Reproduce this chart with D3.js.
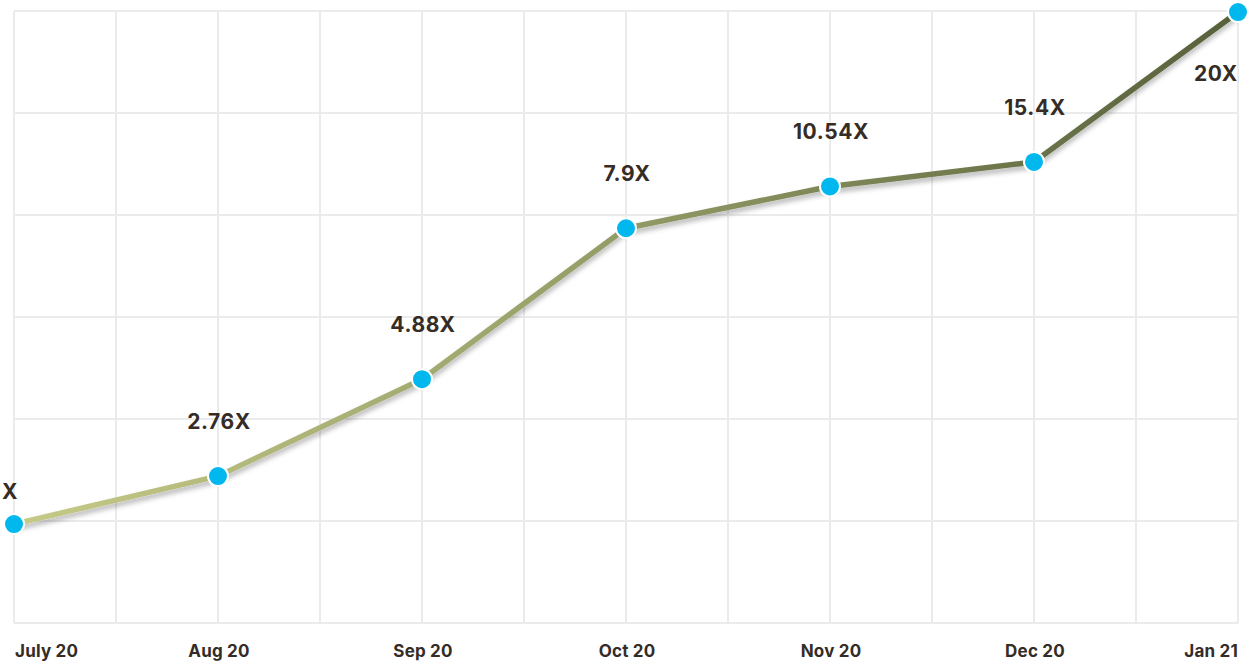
<!DOCTYPE html>
<html><head><meta charset="utf-8">
<script src="https://cdn.jsdelivr.net/npm/d3@7"></script>
<style>
html,body{margin:0;padding:0;background:#fff;}
svg{display:block;font-family:Inter,"Noto Sans",sans-serif;}
</style></head>
<body>
<svg id="chart" width="1255" height="665"></svg>
<script>
const months = ["July 20","Aug 20","Sep 20","Oct 20","Nov 20","Dec 20","Jan 21"];
const values = [0.97, 1.44, 2.39, 3.87, 4.28, 4.52, 5.99];
const labels = ["X","2.76X","4.88X","7.9X","10.54X","15.4X","20X"];
const yTicks = [0,1,2,3,4,5,6];

const svg = d3.select("#chart");
const x = d3.scalePoint().domain(months).range([14, 1238]);
const xGrid = d3.scaleLinear().domain([0, 12]).range([14, 1238]);
const y = d3.scaleLinear().domain([0, 6]).range([623, 11]);

const defs = svg.append("defs");
const grad = defs.append("linearGradient").attr("id","lg")
  .attr("gradientUnits","userSpaceOnUse")
  .attr("x1",14).attr("y1",0).attr("x2",1238).attr("y2",0);
grad.append("stop").attr("offset","0%").attr("stop-color","#c6ca88");
grad.append("stop").attr("offset","45%").attr("stop-color","#98a06a");
grad.append("stop").attr("offset","100%").attr("stop-color","#56603a");
const f = defs.append("filter").attr("id","sh").attr("x","-10%").attr("y","-10%").attr("width","120%").attr("height","130%");
f.append("feDropShadow").attr("dx",0).attr("dy",4).attr("stdDeviation",2.5)
  .attr("flood-color","#000").attr("flood-opacity",0.28);

// grid
const g = svg.append("g");
g.selectAll("line.h").data(yTicks).join("line")
  .attr("x1",14).attr("x2",1238).attr("y1",d=>y(d)).attr("y2",d=>y(d))
  .attr("stroke","#ebebeb").attr("stroke-width",2);
g.selectAll("line.v").data(d3.range(13)).join("line")
  .attr("x1",d=>xGrid(d)).attr("x2",d=>xGrid(d)).attr("y1",y(0)).attr("y2",y(6))
  .attr("stroke","#ebebeb").attr("stroke-width",2);

// line
const line = d3.line().x((d,i)=>x(months[i])).y(d=>y(d));
svg.append("path").datum(values).attr("d",line)
  .attr("fill","none").attr("stroke","url(#lg)").attr("stroke-width",5.5)
  .attr("stroke-linejoin","round").attr("filter","url(#sh)");

// points
svg.selectAll("circle.pt").data(values).join("circle")
  .attr("cx",(d,i)=>x(months[i])).attr("cy",d=>y(d)).attr("r",10)
  .attr("fill","#00b8ee").attr("stroke","#fff").attr("stroke-width",2);

// value labels
svg.selectAll("text.val").data(labels).join("text")
  .attr("x",(d,i)=> i===0 ? 10 : (i===labels.length-1 ? x(months[i])-22 : x(months[i])+1))
  .attr("y",(d,i)=> i===0 ? y(values[i])-25 : (i===labels.length-1 ? y(values[i])+69 : y(values[i])-47))
  .attr("text-anchor","middle")
  .attr("font-size",21).attr("font-weight",700).attr("fill","#352c26")
  .attr("letter-spacing",0.6)
  .text(d=>d);

// x axis labels
svg.selectAll("text.xl").data(months).join("text")
  .attr("x",(d,i)=> i===0 ? 15 : (i===months.length-1 ? 1238 : x(d)+1))
  .attr("y",657)
  .attr("text-anchor",(d,i)=> i===0 ? "start" : (i===months.length-1 ? "end" : "middle"))
  .attr("font-size",17).attr("font-weight",700).attr("fill","#352c26")
  .attr("letter-spacing",0.2)
  .text(d=>d);
</script>
</body></html>
